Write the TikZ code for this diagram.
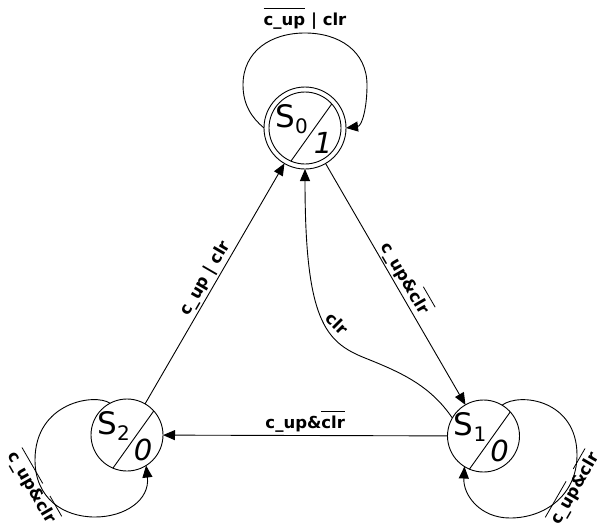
\documentclass[tikz,border=0pt]{standalone}
\usepackage{fontspec}
\setmainfont{DejaVu Sans}
\usetikzlibrary{arrows.meta,calc}
\newcommand{\ovl}[1]{\vbox{\hrule height 0.8pt\kern 4pt\hbox{\vphantom{l}#1}}}
\begin{document}
\begin{tikzpicture}[x=1pt,y=-1pt, line width=0.9pt,
  state/.style={circle, draw, minimum size=72pt, inner sep=0pt, outer sep=0pt},
  accept/.style={circle, draw, minimum size=82pt, inner sep=0pt, outer sep=0pt},
  sname/.style={anchor=base west, inner sep=0pt, font=\fontsize{31}{31}\selectfont},
  sout/.style={anchor=base, inner sep=0pt, font=\fontsize{29}{29}\selectfont\itshape},
  lbl/.style={inner sep=1.5pt, font=\fontsize{16.5}{18}\selectfont\bfseries},
  arr/.style={-{Triangle[length=12pt,width=10pt]}},
]
\useasboundingbox (0,0) rectangle (602,528);
% states
\node[accept] (S0) at (305,128) {};
\node[state] (S0i) at (305,128) {};
\node[state] (S1) at (483.5,436) {};
\node[state] (S2) at (127,435) {};
\draw (S0i.42) -- (S0i.247);
\draw (S1.42) -- (S1.247);
\draw (S2.42) -- (S2.247);
\node[sname] (S0s) at ($(S0)+(-30,-1)$) {S\raisebox{-6pt}{\fontsize{20}{20}\selectfont 0}};
\node[sout] (S0o) at ($(S0)+(18,25)$) {1};
\node[sname] (S1s) at ($(S1)+(-30,-1)$) {S\raisebox{-6pt}{\fontsize{20}{20}\selectfont 1}};
\node[sout] (S1o) at ($(S1)+(16,25)$) {0};
\node[sname] (S2s) at ($(S2)+(-30,-1)$) {S\raisebox{-6pt}{\fontsize{20}{20}\selectfont 2}};
\node[sout] (S2o) at ($(S2)+(16,25)$) {0};
% transitions
\draw[arr] (S2) -- node[lbl, sloped, above] (l20) {c\_up | clr} (S0);
\draw[arr] (S0) -- node[lbl, sloped, above] (l01) {c\_up\&\ovl{clr}} (S1);
\draw[arr] (S1) -- node[lbl, above, inner sep=2.5pt] (l12) {c\_up\&\ovl{clr}} (S2);
\draw[arr] (S1.150) .. controls (430,385) and (400,372) .. (365,358)
  .. controls (325,342) and (305,320) .. (S0.south);
\node[lbl, rotate=-45] (lclr) at (337,323.5) {clr};
% self loops
\draw[arr] (S0.180) .. controls (252,118) and (243,105) .. (243,85)
  .. controls (243,51) and (271,33) .. (305,33)
  .. controls (339,33) and (367,51) .. (367,85)
  .. controls (367,108) and (362,126) .. (S0.0);
\node[lbl, rotate=-60] (l22) at (33,487) {\ovl{c\_up}\&\ovl{clr}};
\node[lbl, anchor=base] (l00) at (305,25) {\ovl{c\_up} | clr};
\draw[arr] (S2.118) .. controls (95,393) and (35,402) .. (35,460)
  .. controls (35,498) and (63,517) .. (95,517)
  .. controls (125,517) and (150,500) .. (S2.-58);
\draw[arr] (S1.59) .. controls (520,392) and (577,400) .. (577,455)
  .. controls (577,495) and (545,518) .. (510,518)
  .. controls (480,518) and (463,495) .. (S1.-122);
\node[lbl, rotate=60] (l11) at (574,488) {\ovl{c\_up}\&\ovl{clr}};
\end{tikzpicture}
\end{document}
